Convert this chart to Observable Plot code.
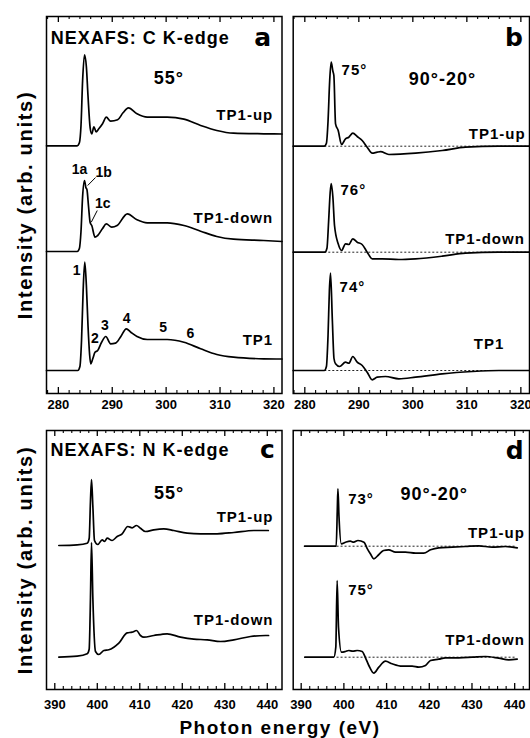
<!DOCTYPE html>
<html>
<head>
<meta charset="utf-8">
<script src="https://cdn.jsdelivr.net/npm/d3@7"></script>
<script src="https://cdn.jsdelivr.net/npm/@observablehq/plot@0.6"></script>
<style>
  body { margin: 0; background: #fff; }
  #fig { position: relative; width: 530px; height: 738px; background: #fff; font-family: "Liberation Sans", Arial, sans-serif; }
  #fig svg { position: absolute; overflow: visible; }
  #fig svg text { font-weight: bold; }
  #xlabel { position: absolute; left: 170px; width: 220px; top: 717px; text-align: center; font-weight: bold; font-size: 19px; letter-spacing: 1.5px; white-space: nowrap; line-height: 22px; font-family: "Liberation Sans", Arial, sans-serif; }
</style>
</head>
<body>
<div id="fig"><div id="xlabel">Photon energy (eV)</div></div>
<script>
// ---------- tick values ----------
const cMajor = [280, 290, 300, 310, 320];
const cMinor = [278, 282, 284, 286, 288, 292, 294, 296, 298, 302, 304, 306, 308, 312, 314, 316, 318];
const nMajor = [390, 400, 410, 420, 430, 440];
const nMinor = [392, 394, 396, 398, 402, 404, 406, 408, 412, 414, 416, 418, 422, 424, 426, 428, 432, 434, 436, 438, 442];

// ---------- panel a: C K-edge, 55° (energy eV, intensity above own baseline) ----------
const aUp = [[277.8,0],[283.5,0],[283.9,0.3],[284.2,2.0],[284.5,6.5],[284.85,9.1],[285.2,7.9],[285.5,5.0],[285.9,1.8],[286.2,1.2],[286.6,1.9],[287.0,1.4],[287.5,1.7],[288.2,2.2],[288.9,2.86],[289.7,2.46],[291.0,2.6],[292.0,3.3],[293.0,3.8],[294.6,3.2],[296.5,2.86],[300.2,2.86],[303.3,2.66],[306.4,2.03],[309.4,1.53],[312.5,1.26],[318.1,1.2],[321.5,1.18]];
const aDown = [[277.8,0],[283.5,0],[283.9,0.3],[284.2,2.0],[284.5,5.5],[284.85,7.1],[285.1,6.4],[285.3,6.2],[285.6,4.5],[285.9,2.9],[286.2,2.6],[286.8,1.43],[287.3,1.6],[288.2,2.3],[288.9,2.77],[289.9,2.43],[290.9,2.6],[292.8,3.77],[294.6,3.17],[296.5,2.87],[300.2,2.87],[303.3,2.6],[306.4,2.03],[309.4,1.5],[312.5,1.23],[318.1,1.1],[321.5,1.0]];
const aTP1 = [[277.8,0],[283.6,0],[284.0,0.4],[284.3,3.0],[284.6,8.0],[284.9,10.83],[285.2,8.5],[285.5,4.5],[285.8,1.6],[286.0,0.67],[286.4,1.2],[286.8,1.83],[287.3,2.0],[288.0,2.8],[288.8,3.4],[289.7,2.67],[290.6,2.73],[291.6,3.4],[292.6,4.17],[293.5,3.8],[294.6,3.4],[296.5,3.1],[300.2,3.1],[303.3,2.83],[306.4,2.17],[309.4,1.6],[312.5,1.33],[318.1,1.17],[321.5,1.15]];
const aOffsets = [24.77, 14.2, 2.3]; // TP1-up, TP1-down, TP1

// ---------- panel b: C K-edge, 90°-20° difference ----------
const bUp = [[277.85,0],[283.6,0],[284.0,0.3],[284.3,2.5],[284.6,6.5],[284.88,8.4],[285.2,7.5],[285.38,7.07],[285.69,2.24],[286.18,1.57],[286.8,0.17],[287.54,0.74],[288.15,0.9],[288.89,1.3],[289.7,0.97],[290.62,0.57],[291.55,-0.1],[292.48,-0.7],[293.4,-0.6],[294.02,-0.55],[295.56,-0.83],[300.5,-0.7],[305.44,-0.43],[309.76,-0.1],[315.93,0],[321.6,0]];
const bDown = [[277.85,0],[283.7,0],[284.1,0.4],[284.4,3.0],[284.7,6.0],[284.9,6.87],[285.2,5.5],[285.5,2.67],[286.18,0.84],[286.8,0.17],[287.54,0.84],[288.15,0.77],[288.89,1.34],[289.7,1.0],[290.62,0.77],[291.55,0],[292.48,-0.66],[294.33,-0.66],[297.41,-0.73],[300.5,-0.66],[305.44,-0.4],[309.76,-0.1],[315.93,0],[321.6,0]];
const bTP1 = [[277.85,0],[283.6,0],[284.0,0.4],[284.3,3.5],[284.55,8.0],[284.76,9.73],[285.1,5.0],[285.4,1.2],[285.69,0.67],[286.43,0.4],[287.54,0.83],[288.15,0.73],[288.89,1.4],[289.7,0.83],[290.62,0.5],[291.55,-0.17],[292.48,-0.93],[293.4,-0.67],[294.94,-0.6],[297.41,-0.83],[300.5,-0.67],[305.44,-0.33],[311.0,-0.1],[315.93,0],[321.6,0]];
const bOffsets = [24.73, 14.13, 2.3];

// ---------- panel c: N K-edge, 55° ----------
const cUp = [[390.95,0],[395.26,0.07],[397.62,0.23],[398.09,0.7],[398.4,4.5],[398.64,6.6],[398.95,4.0],[399.34,0.5],[400.12,0.1],[401.15,0.57],[401.7,0.4],[402.32,0.73],[403.5,0.5],[404.68,0.9],[405.85,1.17],[407.18,1.9],[408.2,1.77],[409.22,2.0],[410.16,1.73],[411.34,1.4],[413.3,1.57],[415.65,1.67],[418.0,1.5],[421.15,1.23],[424.28,1.17],[428.2,1.17],[432.13,1.3],[436.83,1.5],[440.24,1.5]];
const cDown = [[390.95,0],[395.26,0.1],[397.62,0.34],[398.09,0.8],[398.4,6.0],[398.64,11.47],[398.95,6.0],[399.58,0.57],[400.36,0.27],[401.54,0.67],[402.71,0.74],[403.89,1.0],[405.07,1.4],[407.03,2.44],[408.2,2.5],[409.22,2.67],[410.16,2.17],[410.95,2.0],[413.3,2.17],[416.44,2.34],[419.58,2.0],[422.71,1.8],[425.85,1.74],[428.99,1.57],[432.13,1.74],[436.05,2.07],[439.58,2.17],[440.3,2.17]];
const cOffsets = [14.4, 3.23];

// ---------- panel d: N K-edge, 90°-20° difference ----------
const dUp = [[390.8,0],[398.2,0],[398.45,3.5],[398.6,5.74],[398.85,3.0],[399.4,0.24],[400.4,0.4],[401.5,0.5],[402.3,0.4],[403.3,0.57],[404.7,0.4],[405.5,-0.26],[406.2,-0.76],[407.0,-1.26],[408.2,-0.83],[409.3,-0.43],[410.5,-0.36],[412.1,-0.6],[414.4,-0.6],[416.8,-0.7],[418.7,-0.7],[420.3,-0.36],[422.2,-0.16],[425.4,-0.1],[428.5,-0.03],[431.6,0.04],[434.7,-0.1],[437.8,-0.03],[440.6,-0.16]];
const dDown = [[390.85,0],[397.64,0],[398.11,1.0],[398.42,7.67],[398.74,3.0],[399.44,0.5],[400.37,0.57],[401.15,0.67],[402.09,0.6],[403.11,0.67],[404.28,0.57],[405.06,-0.06],[405.84,-0.83],[407.01,-1.6],[408.18,-1.0],[409.74,-0.4],[411.3,-0.66],[413.65,-0.9],[415.99,-0.9],[417.55,-1.0],[419.11,-0.83],[420.28,-0.33],[422.23,-0.2],[423.79,-0.06],[426.92,-0.06],[430.04,0],[433.16,0.07],[436.28,-0.1],[438.62,-0.26],[440.58,-0.2]];
const dOffsets = [14.33, 3.23];

// ---------- dotted zero lines in difference panels ----------
const bZero = [{x1: 283.7, x2: 321.6, y: 24.73}, {x1: 283.7, x2: 321.6, y: 14.13}, {x1: 283.7, x2: 321.6, y: 2.3}];
const dZero = [{x1: 398.4, x2: 440.2, y: 14.33}, {x1: 398.4, x2: 440.2, y: 3.23}];

// ---------- annotations (data coordinates) ----------
const aText = [
  {x: 278.57, y: 35.53, text: "NEXAFS: C K-edge", kind: "title"},
  {x: 317.9, y: 35.6, text: "a", kind: "tag"},
  {x: 300.5, y: 31.57, text: "55°", kind: "big"},
  {x: 319.87, y: 27.8, text: "TP1-up", kind: "name"},
  {x: 319.87, y: 17.57, text: "TP1-down", kind: "name"},
  {x: 319.87, y: 5.3, text: "TP1", kind: "name"},
  {x: 283.94, y: 22.4, text: "1a", kind: "peak"},
  {x: 288.39, y: 22.1, text: "1b", kind: "peak"},
  {x: 288.26, y: 18.97, text: "1c", kind: "peak"},
  {x: 283.39, y: 12.3, text: "1", kind: "peak"},
  {x: 286.78, y: 5.47, text: "2", kind: "peak"},
  {x: 288.63, y: 6.8, text: "3", kind: "peak"},
  {x: 292.65, y: 7.47, text: "4", kind: "peak"},
  {x: 299.44, y: 6.63, text: "5", kind: "peak"},
  {x: 304.5, y: 6.03, text: "6", kind: "peak"}
];
const aLeaders = [
  {x1: 286.9, y1: 21.6, x2: 285.44, y2: 20.8},
  {x1: 287.22, y1: 18.3, x2: 286.11, y2: 17.13}
];
const bText = [
  {x: 318.74, y: 35.6, text: "b", kind: "tag"},
  {x: 305.5, y: 31.4, text: "90°-20°", kind: "big"},
  {x: 286.8, y: 32.37, text: "75°", kind: "angle"},
  {x: 286.6, y: 20.3, text: "76°", kind: "angle"},
  {x: 286.43, y: 10.63, text: "74°", kind: "angle"},
  {x: 320.87, y: 25.97, text: "TP1-up", kind: "name"},
  {x: 320.74, y: 15.4, text: "TP1-down", kind: "name"},
  {x: 316.93, y: 4.9, text: "TP1", kind: "name"}
];
const cText = [
  {x: 388.99, y: 23.97, text: "NEXAFS: N K-edge", kind: "title"},
  {x: 440.05, y: 24.0, text: "c", kind: "tag"},
  {x: 416.87, y: 19.63, text: "55°", kind: "big"},
  {x: 441.46, y: 17.23, text: "TP1-up", kind: "name"},
  {x: 441.46, y: 6.9, text: "TP1-down", kind: "name"}
];
const dText = [
  {x: 440.02, y: 23.9, text: "d", kind: "tag"},
  {x: 421.17, y: 19.57, text: "90°-20°", kind: "big"},
  {x: 401.0, y: 19.07, text: "73°", kind: "angle"},
  {x: 401.0, y: 9.9, text: "75°", kind: "angle"},
  {x: 442.37, y: 15.67, text: "TP1-up", kind: "name"},
  {x: 442.37, y: 4.9, text: "TP1-down", kind: "name"}
];
const yTitle = ["Intensity (arb. units)"];

// ---------- text styles by kind ----------
const kindStyle = {
  title: {textAnchor: "start", fontSize: 18, spacing: 1},
  big:   {textAnchor: "middle", fontSize: 18, spacing: 1},
  tag:   {textAnchor: "middle", fontSize: 25, fontFamily: "DejaVu Sans", spacing: 0},
  name:  {textAnchor: "end", fontSize: 15, spacing: 1},
  angle: {textAnchor: "start", fontSize: 15, spacing: 1},
  peak:  {textAnchor: "middle", fontSize: 14, spacing: 0}
};
const spacingOf = new Map();
[...aText, ...bText, ...cText, ...dText].forEach(d => spacingOf.set(d.text, kindStyle[d.kind].spacing));
spacingOf.set(yTitle[0], 1.7);

function panel(cfg) {
  const ph = cfg.height - cfg.mt - cfg.mb;
  const marks = [];
  if (cfg.zero) marks.push(Plot.ruleY(cfg.zero, {y: "y", x1: "x1", x2: "x2", stroke: "#222", strokeWidth: 1, strokeDasharray: "2,2"}));
  cfg.curves.forEach(([pts, off]) => {
    marks.push(Plot.line(pts, {x: d => d[0], y: d => d[1] + off, stroke: "black", strokeWidth: 1.7, curve: "monotone-x"}));
  });
  if (cfg.leaders) marks.push(Plot.link(cfg.leaders, {x1: "x1", y1: "y1", x2: "x2", y2: "y2", stroke: "black", strokeWidth: 1}));
  marks.push(
    Plot.ruleX(cfg.majors, {x: d => d, stroke: "black", strokeWidth: 1.3, insetTop: ph - 6}),
    Plot.ruleX(cfg.minors, {x: d => d, stroke: "black", strokeWidth: 1.1, insetTop: ph - 3}),
    Plot.ruleX(cfg.majors, {x: d => d, stroke: "black", strokeWidth: 1.3, insetBottom: ph - 6}),
    Plot.ruleX(cfg.minors, {x: d => d, stroke: "black", strokeWidth: 1.1, insetBottom: ph - 3}),
    Plot.axisX(cfg.majors, {anchor: "bottom", tickSize: 0, tickPadding: cfg.tickPad, fontSize: 13, fontWeight: "bold", label: null})
  );
  marks.push(Plot.frame({stroke: "black", strokeWidth: 1.5}));
  for (const kind of Object.keys(kindStyle)) {
    const rows = cfg.text.filter(d => d.kind === kind);
    const {spacing, ...st} = kindStyle[kind];
    if (rows.length) marks.push(Plot.text(rows, {x: "x", y: "y", text: "text", fontWeight: "bold", fill: "black", ...st}));
  }
  if (cfg.ytitle) marks.push(Plot.text(yTitle, {frameAnchor: "left", textAnchor: "middle", rotate: -90, dx: -21, fontSize: 20, fontWeight: "bold", fill: "black"}));

  const svg = Plot.plot({
    width: cfg.width, height: cfg.height,
    marginLeft: cfg.ml, marginRight: cfg.mr, marginTop: cfg.mt, marginBottom: cfg.mb,
    x: {domain: cfg.xDomain, axis: null, label: null},
    y: {domain: cfg.yDomain, axis: null},
    style: {fontFamily: "'Liberation Sans', Arial, sans-serif", fontWeight: "bold", color: "black", background: "transparent", overflow: "visible"},
    marks
  });
  d3.select(svg).selectAll("text").each(function () {
    const s = spacingOf.get(this.textContent);
    if (s) this.setAttribute("letter-spacing", s + "px");
  });
  svg.style.left = cfg.left + "px";
  svg.style.top = cfg.top + "px";
  svg.style.maxWidth = "none";
  document.getElementById("fig").appendChild(svg);
}

panel({left: 0, top: 0, width: 283, height: 412, ml: 46, mr: 1.5, mt: 16, mb: 19, tickPad: 6,
  xDomain: [277.8, 321.5], yDomain: [0, 37.7], majors: cMajor, minors: cMinor,
  curves: [[aUp, aOffsets[0]], [aDown, aOffsets[1]], [aTP1, aOffsets[2]]],
  leaders: aLeaders, text: aText, ytitle: true});
panel({left: 283, top: 0, width: 247, height: 412, ml: 9.7, mr: 1, mt: 16, mb: 19, tickPad: 6,
  xDomain: [277.85, 321.6], yDomain: [0, 37.7], majors: cMajor, minors: cMinor,
  curves: [[bUp, bOffsets[0]], [bDown, bOffsets[1]], [bTP1, bOffsets[2]]],
  zero: bZero, text: bText});
panel({left: 0, top: 412, width: 283, height: 306, ml: 46, mr: 1.5, mt: 18, mb: 29, tickPad: 10,
  xDomain: [388.05, 443.46], yDomain: [0, 25.9], majors: nMajor, minors: nMinor.filter(v => v > 388.05 && v < 443.46),
  curves: [[cUp, cOffsets[0]], [cDown, cOffsets[1]]],
  text: cText, ytitle: true});
panel({left: 283, top: 412, width: 247, height: 306, ml: 9.7, mr: 1, mt: 18, mb: 29, tickPad: 10,
  xDomain: [388.13, 443.47], yDomain: [0, 25.9], majors: nMajor, minors: nMinor.filter(v => v > 388.13 && v < 443.47),
  curves: [[dUp, dOffsets[0]], [dDown, dOffsets[1]]],
  zero: dZero, text: dText});
</script>
</body>
</html>
